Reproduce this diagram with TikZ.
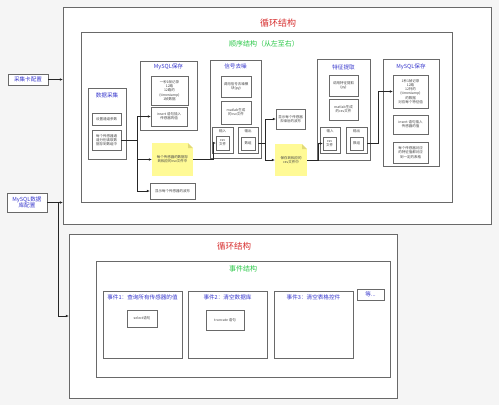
\documentclass[tikz,border=0pt]{standalone}
\usepackage{fontspec}
\setmainfont{Noto Sans CJK SC}
\usetikzlibrary{arrows.meta,calc}
\definecolor{bg}{RGB}{245,245,245}
\definecolor{edge}{RGB}{105,105,105}
\definecolor{ttlred}{RGB}{215,45,45}
\definecolor{ttlgreen}{RGB}{40,200,70}
\definecolor{ttlblue}{RGB}{55,55,205}
\definecolor{notey}{RGB}{255,250,150}
\definecolor{notefold}{RGB}{225,218,120}
\definecolor{txt}{RGB}{70,70,70}
\newcommand\mybox[7]{\node[#6, minimum width={(#4-#2)*1pt}, minimum height={(#5-#3)*1pt}] (#1) at ({(#2+#4)/2},{(#3+#5)/2}) {#7};}
\tikzset{
  frame/.style={draw=edge, line width=1pt, fill=white, inner sep=0pt, outer sep=0pt},
  cell/.style={draw=edge, line width=0.85pt, fill=white, inner sep=0.3pt, outer sep=0pt, align=center, text=txt, font=\fontsize{3.5}{4.3}\selectfont},
  cfgbox/.style={draw=edge, line width=0.9pt, fill=white, inner sep=0.3pt, outer sep=0pt, align=center, text=ttlblue, font=\fontsize{5.6}{6.6}\selectfont},
  notebox/.style={fill=notey, inner sep=0.3pt, outer sep=0pt, align=center, text=txt, font=\fontsize{3.5}{4.3}\selectfont},
  redttl/.style={text=ttlred, inner sep=0pt},
  greenttl/.style={text=ttlgreen, inner sep=0pt, font=\fontsize{7}{8}\selectfont},
  bluettl/.style={text=ttlblue, inner sep=0pt, font=\fontsize{5.6}{6.6}\selectfont},
  smallttl/.style={text=txt, inner sep=0pt, font=\fontsize{3.5}{4.3}\selectfont},
  arr/.style={draw=black!85, line width=0.8pt, -{Latex[length=3.2pt,width=2.6pt]}},
  ln/.style={draw=black!85, line width=0.8pt}
}
\begin{document}
\begin{tikzpicture}[x=1pt,y=-1pt]
\useasboundingbox (0,0) rectangle (499,405);
\fill[bg] (0,0) rectangle (499,405);

% outer loop 1 and sequence
\mybox{loop1}{63}{7}{491}{224}{frame}{}
\node[redttl, font=\fontsize{9}{10}\selectfont] (t1) at (278,23) {循环结构};
\mybox{seq}{81}{32}{452}{202}{frame}{}
\node[greenttl] (t2) at (264,44) {顺序结构（从左至右）};

% config boxes
\mybox{cfg}{8}{74}{48}{85}{cfgbox}{采集卡配置}
\mybox{db}{7}{193}{47}{212}{cfgbox}{MySQL数据\\库配置}

% data acquisition
\mybox{acq}{88}{88}{126}{159}{frame}{}
\node[bluettl] (acqt) at (107,95) {数据采集};
\mybox{acq1}{92}{113}{121}{125}{cell}{设置通道参数}
\mybox{acq2}{92}{130}{121}{150}{cell}{每个传感器通\\道分别读取数\\据存到数组中}

% MySQL 1
\mybox{my1}{140}{61}{197}{130}{frame}{}
\node[bluettl] (my1t) at (168.5,67) {MySQL保存};
\mybox{my1a}{151}{76}{188}{105}{cell}{一秒1帧记录\\12路\\12路的\\(timestamp)\\1帧数据}
\mybox{ins1}{151}{107}{187}{126}{cell}{insert 语句插入\\传感器的值}

% note 1 and wave 1
\mybox{note1}{152}{143}{193}{176}{notebox}{每个传感器的数据存\\到相应的csv文件中}
\fill[white] (note1.north east) -- ++(-5,0) -- ++(5,5) -- cycle;
\fill[notefold] ($(note1.north east)+(-5,0)$) -- ++(0,5) -- ++(5,0) -- cycle;
\mybox{wave1}{150}{183}{195}{199}{cell}{显示每个传感器的波形}

% denoise
\mybox{dn}{210}{60}{261}{158}{frame}{}
\node[bluettl] (dnt) at (235.5,66) {信号去噪};
\mybox{dn1}{221}{76}{251}{97}{cell}{调用信号去噪模\\块(py)}
\mybox{dn2}{221}{101}{251}{124}{cell}{matlab生成\\的csv文件}
\mybox{in1}{212}{127}{233}{153}{cell}{}
\node[smallttl] at (222.5,131) {输入};
\mybox{csv1}{216}{136}{229}{150}{cell}{csv\\文件}
\mybox{out1}{238}{127}{258}{153}{cell}{}
\node[smallttl] at (248,131) {输出};
\mybox{arr1}{241}{137}{255}{150}{cell}{数组}

% wave 2 and note 2
\mybox{wave2}{276}{109}{305}{129}{cell}{显示每个传感器\\去噪后的波形}
\mybox{note2}{275}{144}{307}{176}{notebox}{保存到相应的\\csv文件中}
\fill[white] (note2.north east) -- ++(-5,0) -- ++(5,5) -- cycle;
\fill[notefold] ($(note2.north east)+(-5,0)$) -- ++(0,5) -- ++(5,0) -- cycle;

% feature extraction
\mybox{fe}{317}{59}{370}{160}{frame}{}
\node[bluettl] (fet) at (343.5,67) {特征提取};
\mybox{fe1}{329}{75}{358}{96}{cell}{调用特征提取\\(py)}
\mybox{fe2}{329}{99}{358}{120}{cell}{matlab生成\\的csv文件}
\mybox{in2}{320}{127}{340}{153}{cell}{}
\node[smallttl] at (330,131) {输入};
\mybox{csv2}{323}{137}{336}{150}{cell}{csv\\文件}
\mybox{out2}{346}{127}{367}{153}{cell}{}
\node[smallttl] at (356.5,131) {输出};
\mybox{arr2}{350}{137}{363}{150}{cell}{数组}

% MySQL 2
\mybox{my2}{383}{59}{439}{166}{frame}{}
\node[bluettl] (my2t) at (411,67) {MySQL保存};
\mybox{my2a}{393}{75}{428}{108}{cell}{1秒1帧记录\\12路\\12列的\\(timestamp)\\的数据\\对应每个特征值}
\mybox{ins2}{393}{115}{428}{134}{cell}{insert 语句插入\\传感器的值}
\mybox{my2c}{393}{142}{428}{163}{cell}{每个传感器对应\\的特征值都对应\\到一定的表格}

% loop 2
\mybox{loop2}{69}{234}{397}{398}{frame}{}
\node[redttl, font=\fontsize{8.5}{9.5}\selectfont] (t3) at (234,246) {循环结构};
\mybox{evt}{96}{261}{390}{377}{frame}{}
\node[greenttl] (t4) at (243,269) {事件结构};
\mybox{e1}{103}{291}{182}{358}{frame}{}
\node[bluettl] at (142.5,297.5) {事件1：查询所有传感器的值};
\mybox{sel}{127}{310}{157}{327}{cell}{select语句}
\mybox{e2}{188}{291}{267}{358}{frame}{}
\node[bluettl] at (227.5,297.5) {事件2：清空数据库};
\mybox{trn}{206}{310}{244}{330}{cell}{truncate 语句}
\mybox{e3}{274}{291}{353}{358}{frame}{}
\node[bluettl] at (313.5,297.5) {事件3：清空表格控件};
\mybox{etc}{357}{289}{384}{300}{cfgbox}{等...}

% connectors
\draw[arr] (cfg.east) -- (cfg.east -| loop1.west);
\draw[arr] (db.east) -- (db.east -| loop1.west);
\coordinate (dbj) at ($(db.east)+(11,0)$);
\draw[arr] (dbj) |- (loop2.west);

\coordinate (j1) at ($(acq2.east)+(16,0)$);
\draw[ln] (acq2.east) -- (j1);
\draw[arr] (j1) |- (ins1.west);
\draw[arr] (j1) |- (note1.west);
\draw[arr] (j1) |- (wave1.west);

\draw[arr] (note1.east) -- ++(20,0) |- (csv1.west);

\coordinate (o1) at (out1.east |- arr1.east);
\coordinate (j2) at ($(o1)+(7,0)$);
\draw[ln] (o1) -- (j2);
\draw[arr] (j2) |- (wave2.west);
\draw[arr] (j2) |- (note2.west);

\draw[arr] (note2.east) -- ++(11,0) |- (csv2.west);

\coordinate (o2) at (out2.east |- arr2.east);
\coordinate (j3) at ($(o2)+(11,0)$);
\draw[ln] (o2) -- (j3);
\draw[arr] (j3) |- (my2a.west);
\end{tikzpicture}
\end{document}
